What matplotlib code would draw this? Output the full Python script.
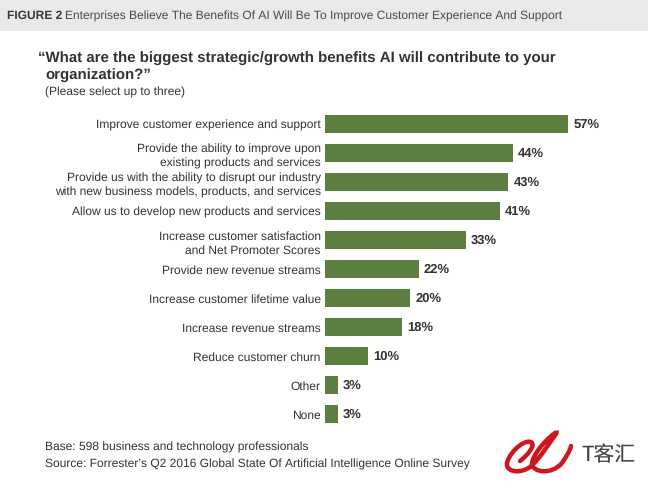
import matplotlib
matplotlib.use('Agg')
import matplotlib.pyplot as plt
from matplotlib.patches import Rectangle, PathPatch
from matplotlib.path import Path

plt.rcParams['font.family'] = ['Liberation Sans', 'DejaVu Sans']
plt.rcParams['text.hinting'] = 'none'
plt.rcParams['text.hinting_factor'] = 1

W, H = 648, 485

categories = [
    'Improve customer experience and support',
    'Provide the ability to improve upon\nexisting products and services',
    'Provide us with the ability to disrupt our industry\nwith new business models, products, and services',
    'Allow us to develop new products and services',
    'Increase customer satisfaction\nand Net Promoter Scores',
    'Provide new revenue streams',
    'Increase customer lifetime value',
    'Increase revenue streams',
    'Reduce customer churn',
    'Other',
    'None',
]
values = [57, 44, 43, 41, 33, 22, 20, 18, 10, 3, 3]

GREEN = '#5c7f41'
DARK = '#333333'


def fx(px):
    return px / W


def fy(py):
    return 1 - py / H


fig = plt.figure(figsize=(W / 100, H / 100), dpi=100, facecolor='white')

# header band
fig.add_artist(Rectangle((0, fy(32)), 1, 32 / H, transform=fig.transFigure, color='#e8e9eb', lw=0))
fig.text(fx(7), fy(16), 'FIGURE 2', fontsize=8.6, fontweight='bold', color='#3a3a3a', va='center')
fig.text(fx(65), fy(16), 'Enterprises Believe The Benefits Of AI Will Be To Improve Customer Experience And Support',
         fontsize=8.65, color='#4a4a4a', va='center')

# question
fig.text(fx(38), fy(59), '\u201cWhat are the biggest strategic/growth benefits AI will contribute to your',
         fontsize=10.6, fontweight='bold', color=DARK, va='center')
fig.text(fx(45), fy(76), 'organization?\u201d', fontsize=10.6, fontweight='bold', color=DARK, va='center')
fig.text(fx(45), fy(92), '(Please select up to three)', fontsize=8.5, color=DARK, va='center')

# bars, 1 % is about 4.263 px
ax = fig.add_axes([fx(325), fy(430), (W - 325) / W, 320 / H])
ax.set_xlim(0, (W - 325) / 4.263)
ypos = list(range(len(values)))
ax.set_ylim(10.52, -0.5)
ax.barh(ypos, values, height=0.62, color=GREEN)
for y, v in zip(ypos, values):
    ax.text(v + 1.2, y, f'{v}%', fontsize=9.2, fontweight='bold', color=DARK, va='center')
ax.set_yticks(ypos)
ax.set_yticklabels(categories, fontsize=8.65, color=DARK, linespacing=1.38)
ax.set_xticks([])
ax.tick_params(axis='y', length=0, pad=3)
for s in ax.spines.values():
    s.set_visible(False)
ax.patch.set_alpha(0)

# footer
fig.text(fx(45), fy(447), 'Base: 598 business and technology professionals', fontsize=8.6, color=DARK, va='center')
fig.text(fx(45), fy(464), 'Source: Forrester\u2019s Q2 2016 Global State Of Artificial Intelligence Online Survey',
         fontsize=8.6, color=DARK, va='center')

# watermark logo
pts = [(520, 462),
       (528, 456), (536, 446), (531, 443),
       (522, 440), (506, 458), (507, 466),
       (508, 474), (522, 474), (530, 468),
       (540, 460), (552, 440), (556, 435),
       (560, 428), (534, 450), (532, 464),
       (532, 474), (552, 476), (562, 464),
       (566, 458), (570, 452), (571, 447)]
codes = [Path.MOVETO] + [Path.CURVE4] * (len(pts) - 1)
logo = Path([(fx(x), fy(y)) for x, y in pts], codes)
fig.add_artist(PathPatch(logo, transform=fig.transFigure, fc='none', ec='#d2141c', lw=3.2, capstyle='round'))
fig.text(fx(581), fy(455), 'T客汇', fontsize=15, color='#444444', va='center',
         family=['Noto Sans CJK SC', 'DejaVu Sans'])

fig.savefig('out.png', dpi=100)
